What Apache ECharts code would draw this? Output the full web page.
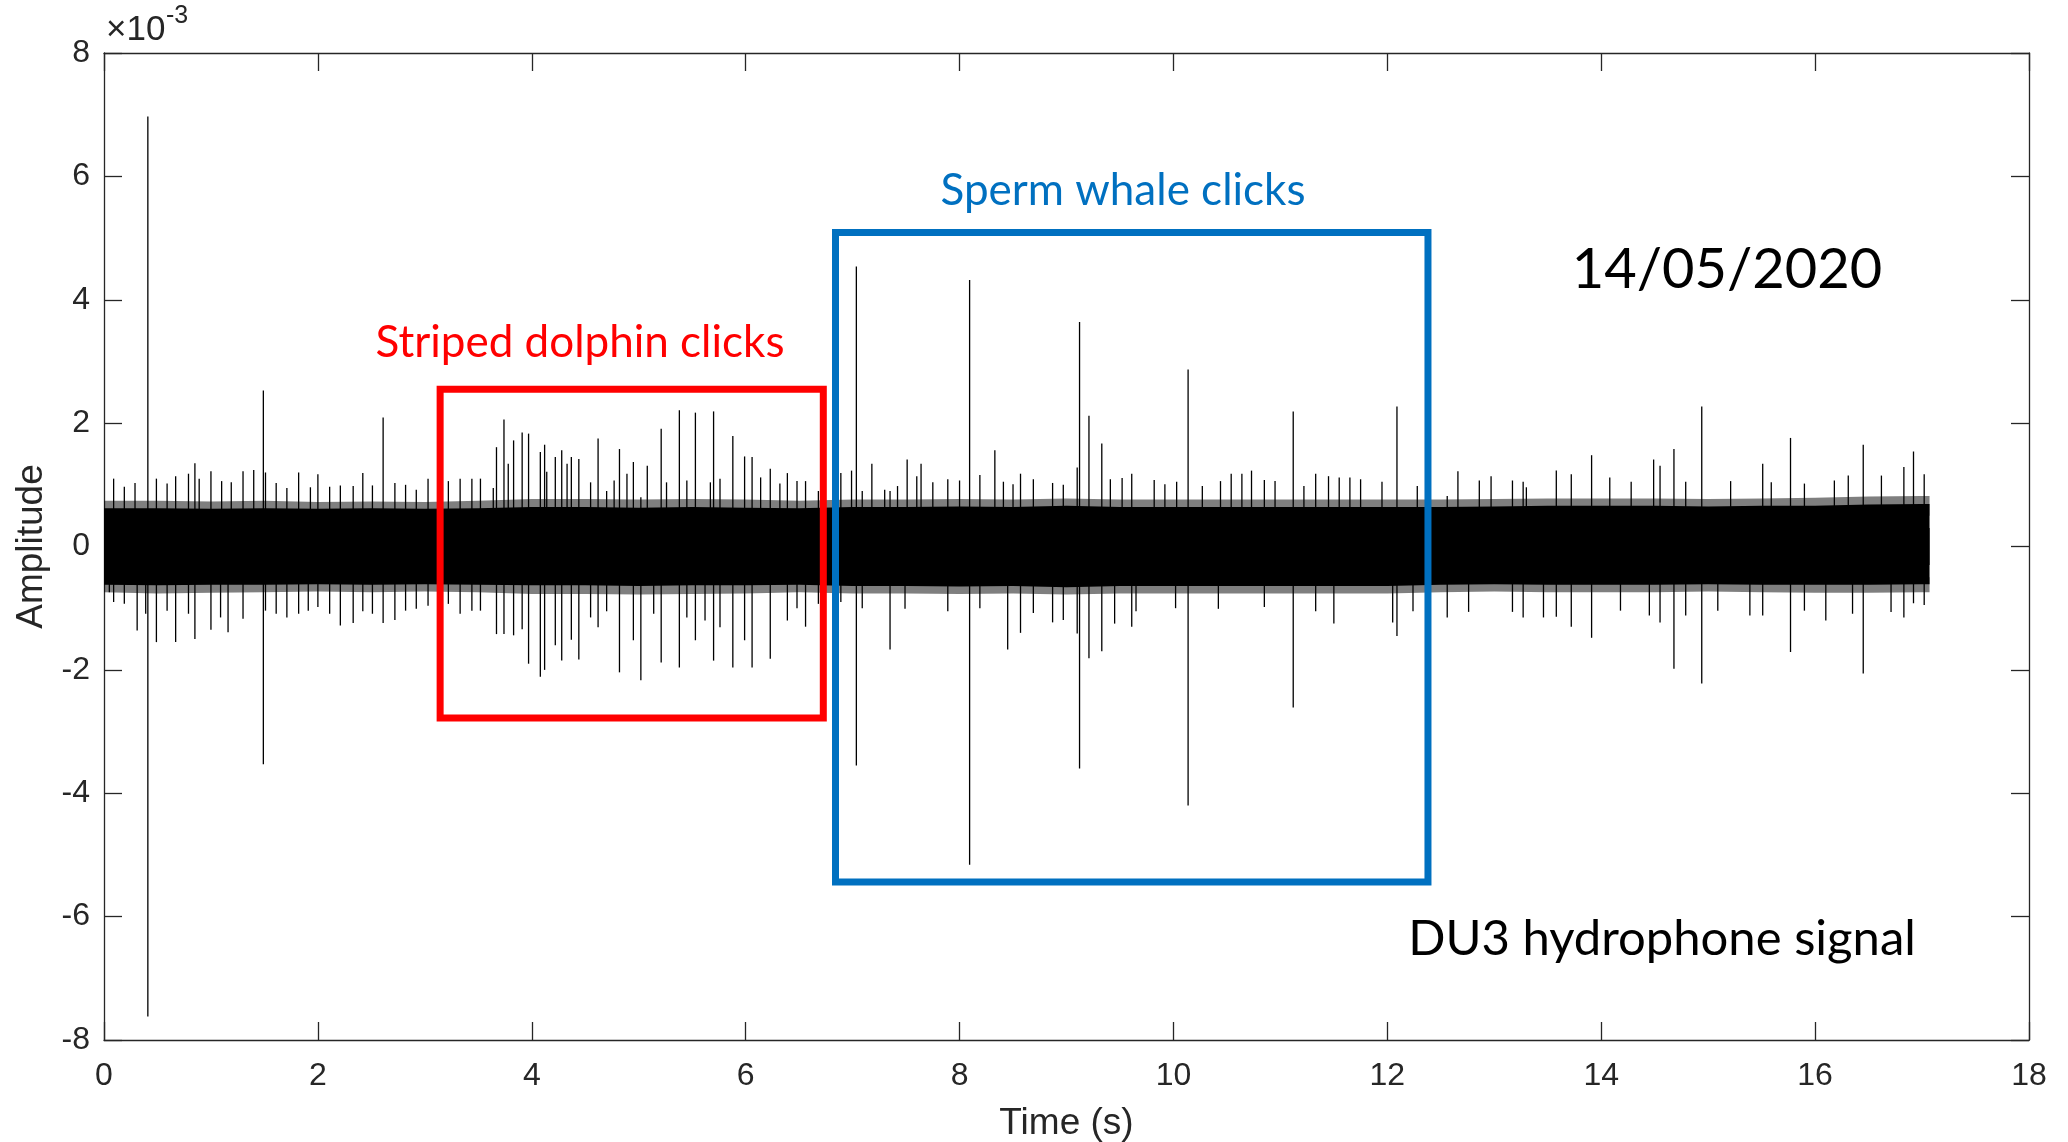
<!DOCTYPE html>
<html><head><meta charset="utf-8">
<script src="https://cdn.jsdelivr.net/npm/echarts@6/dist/echarts.min.js"></script>
<style>html,body{margin:0;padding:0;background:#fff}#c{width:2068px;height:1142px}</style>
</head><body><div id="c"></div>
<script>
// ---- data (amplitude in units of 1e-3) ----
const xTickValues = [0, 2, 4, 6, 8, 10, 12, 14, 16, 18];
const yTickValues = [-8, -6, -4, -2, 0, 2, 4, 6, 8];

// dense noise band envelope (read every 0.5 s)
const bandT   = [0,0.5,1,1.5,2,2.5,3,3.5,4,4.5,5,5.5,6,6.5,7,7.5,8,8.5,9,9.5,10,10.5,11,11.5,12,12.5,13,13.5,14,14.5,15,15.5,16,16.5,17,17.07];
const coreHi  = [0.62,0.62,0.61,0.62,0.61,0.62,0.61,0.62,0.64,0.64,0.63,0.64,0.63,0.62,0.64,0.64,0.65,0.64,0.66,0.64,0.64,0.64,0.64,0.64,0.64,0.64,0.65,0.66,0.66,0.66,0.65,0.66,0.66,0.68,0.69,0.69];
const coreLo  = [-0.62,-0.63,-0.62,-0.62,-0.61,-0.62,-0.61,-0.62,-0.63,-0.63,-0.64,-0.63,-0.63,-0.62,-0.64,-0.64,-0.65,-0.64,-0.66,-0.64,-0.64,-0.64,-0.64,-0.64,-0.64,-0.62,-0.61,-0.62,-0.62,-0.62,-0.61,-0.62,-0.62,-0.62,-0.61,-0.61];
const fringeHi = [0.74,0.74,0.73,0.74,0.72,0.73,0.72,0.74,0.77,0.77,0.76,0.77,0.76,0.74,0.76,0.76,0.77,0.76,0.78,0.76,0.76,0.76,0.76,0.76,0.76,0.76,0.77,0.78,0.78,0.78,0.77,0.78,0.79,0.81,0.82,0.82];
const fringeLo = [-0.74,-0.76,-0.75,-0.74,-0.73,-0.74,-0.73,-0.74,-0.77,-0.77,-0.78,-0.77,-0.76,-0.74,-0.76,-0.76,-0.77,-0.76,-0.78,-0.76,-0.76,-0.76,-0.76,-0.76,-0.76,-0.74,-0.73,-0.74,-0.74,-0.74,-0.73,-0.74,-0.75,-0.75,-0.74,-0.74];

// individual clicks / hairs: time (s), upper tip, lower tip
const spikeT  = [0.05,0.09,0.19,0.29,0.31,0.39,0.41,0.49,0.59,0.67,0.79,0.85,0.89,1.00,1.09,1.10,1.16,1.19,1.30,1.40,1.49,1.51,1.61,1.71,1.82,1.91,1.93,2.00,2.11,2.21,2.33,2.42,2.51,2.61,2.72,2.82,2.92,3.03,3.13,3.22,3.33,3.44,3.52,3.64,3.67,3.74,3.78,3.83,3.91,3.97,4.08,4.12,4.14,4.22,4.28,4.33,4.37,4.44,4.55,4.62,4.70,4.77,4.82,4.89,4.95,5.02,5.08,5.14,5.21,5.26,5.38,5.45,5.53,5.62,5.67,5.70,5.76,5.88,5.99,6.06,6.14,6.23,6.32,6.39,6.48,6.56,6.68,6.89,6.99,7.035,7.09,7.18,7.30,7.35,7.42,7.49,7.51,7.60,7.64,7.75,7.89,8.00,8.094,8.19,8.33,8.41,8.45,8.50,8.57,8.69,8.87,8.97,9.10,9.122,9.21,9.33,9.41,9.45,9.52,9.61,9.65,9.82,9.92,10.02,10.03,10.137,10.27,10.42,10.44,10.54,10.64,10.73,10.85,10.95,11.12,11.22,11.33,11.45,11.50,11.55,11.65,11.75,11.95,12.05,12.09,12.24,12.28,12.40,12.56,12.66,12.76,12.86,12.97,13.17,13.27,13.30,13.46,13.58,13.72,13.91,14.08,14.18,14.28,14.45,14.49,14.55,14.68,14.79,14.94,15.09,15.21,15.39,15.51,15.59,15.77,15.90,16.10,16.18,16.31,16.35,16.45,16.62,16.71,16.83,16.92,17.02];
const spikeHi = [0,1.10,0.97,1.03,0,0,6.97,1.10,1.02,1.14,1.18,1.35,1.10,1.22,0,1.06,0,1.04,1.22,1.24,2.53,1.20,1.03,0.95,1.20,0,0.96,1.17,0.97,0.99,0.98,1.19,0.99,2.09,1.03,1.00,0.92,1.10,0.94,1.06,1.10,1.10,1.10,0.95,1.61,2.06,1.34,1.72,1.85,1.83,1.53,1.65,1.21,1.45,1.56,1.34,1.45,1.42,1.04,1.75,0.90,1.07,1.58,1.18,1.37,0.80,1.31,0,1.91,1.04,2.21,1.07,2.17,0,1.04,2.19,1.10,1.79,1.46,1.45,1.12,1.26,1.02,1.19,1.06,1.06,0.90,1.19,1.23,4.54,0.90,1.34,0.92,0.90,0.98,0,1.41,1.14,1.34,1.04,1.09,1.07,4.32,1.16,1.56,1.05,0,1.01,1.18,1.09,1.03,1.00,1.28,3.64,2.12,1.67,1.09,0,1.11,1.18,0,1.08,1.01,0,1.05,2.87,0.98,0,1.06,1.18,1.18,1.23,1.08,1.06,2.19,0.98,1.18,1.14,0,1.12,1.12,1.09,1.05,0,2.27,0,0.98,0,0.82,1.22,0,1.07,1.14,1.07,1.05,0.96,0,1.23,1.17,1.48,1.12,0,1.05,0,1.41,1.31,1.58,1.05,2.27,0,1.06,0,1.34,1.04,1.76,1.02,0,1.07,1.15,0,1.65,1.15,0,1.29,1.54,1.17];
const spikeLo = [-0.74,-0.90,-0.93,0,-1.36,-1.09,-7.62,-1.55,-1.04,-1.55,-1.09,-1.50,0,-1.35,-1.15,0,-1.39,0,-1.17,0,-3.53,-1.04,-1.09,-1.15,-1.09,-1.04,0,-0.98,-1.09,-1.28,-1.24,-1.05,-1.09,-1.24,-1.19,-1.04,-1.01,-0.96,-1.01,-0.93,-1.09,-1.04,-1.04,0,-1.42,-1.42,0,-1.44,-1.34,-1.90,-2.11,-2.00,0,-1.60,-1.85,0,-1.51,-1.83,-1.15,-1.31,-1.05,0,-2.04,0,-1.52,-2.17,0,-1.09,-1.88,0,-1.96,-1.15,-1.52,-1.20,0,-1.85,-1.31,-1.96,-1.52,-1.96,0,-1.82,0,-1.20,-1.00,-1.30,-0.93,-0.90,0,-3.55,-1.00,0,0,-1.67,0,-1.01,0,0,0,0,-1.05,0,-5.16,-1.00,0,0,-1.67,0,-1.40,-1.08,-1.23,-1.19,-1.41,-3.60,-1.81,-1.70,0,-1.25,0,-1.30,-1.05,0,0,-1.00,0,-4.20,0,-1.01,0,0,0,0,-0.98,0,-2.61,0,-1.05,0,-1.25,0,0,0,0,-1.23,-1.45,-1.05,0,-0.93,-1.15,0,-1.06,0,0,-1.06,-1.15,0,-1.15,-1.14,-1.30,-1.48,0,-1.04,0,-1.12,0,-1.23,-1.98,-1.12,-2.22,-1.04,0,-1.12,-1.12,0,-1.71,-1.04,-1.20,0,0,-1.09,-2.06,0,-1.06,-1.15,-0.92,-0.95];

// annotation boxes: [t0, ampTop, t1, ampBottom]
const dolphinBox = [3.143, 2.55, 6.726, -2.78];
const spermBox   = [6.84, 5.09, 12.38, -5.44];

// texts
const xName = 'Time (s)';
const yName = 'Amplitude';
const dolphinLabel = 'Striped dolphin clicks';
const spermLabel = 'Sperm whale clicks';
const dateLabel = '14/05/2020';
const sourceLabel = 'DU3 hydrophone signal';

// ---- chart ----
const chart = echarts.init(document.getElementById('c'), null, {renderer: 'canvas'});
const axisColor = '#262626';
const tickFont = 'Liberation Sans, Arial, Helvetica, sans-serif';
const annFont = 'Lato, Carlito, Calibri, sans-serif';

function pairs(xs, ys) { return xs.map((x, i) => [x, ys[i]]); }
function bandSeries(vals, color, origin) {
  return {
    type: 'line', data: pairs(bandT, vals), symbol: 'none', silent: true,
    lineStyle: {width: 0}, areaStyle: {color: color, opacity: 1, origin: origin},
    animation: false, z: 2
  };
}
function boxSeries(box, color) {
  return {
    type: 'custom', silent: true, animation: false, z: 10,
    data: [box], encode: {x: [0, 2], y: [1, 3]},
    renderItem: (params, api) => {
      const a = api.coord([api.value(0), api.value(1)]);
      const b = api.coord([api.value(2), api.value(3)]);
      return {type: 'rect', shape: {x: a[0], y: a[1], width: b[0] - a[0], height: b[1] - a[1]},
        style: {fill: 'none', stroke: color, lineWidth: 7}};
    }
  };
}

const option = {
  backgroundColor: '#ffffff',
  animation: false,
  grid: {left: 104, right: 39, top: 53, bottom: 102, containLabel: false, outerBoundsMode: 'none'},
  xAxis: [{
    type: 'value', min: 0, max: 18, interval: 2, position: 'bottom',
    axisLine: {show: true, onZero: false, lineStyle: {color: axisColor, width: 1.3}},
    axisTick: {show: true, inside: true, length: 18, lineStyle: {color: axisColor, width: 1.3}},
    axisLabel: {color: axisColor, fontSize: 32, fontFamily: tickFont, margin: 20},
    splitLine: {show: false},
    name: xName, nameLocation: 'middle', nameGap: 65,
    nameTextStyle: {color: axisColor, fontSize: 37, fontFamily: tickFont}
  }, {
    type: 'value', min: 0, max: 18, interval: 2, position: 'top',
    axisLine: {show: true, onZero: false, lineStyle: {color: axisColor, width: 1.3}},
    axisTick: {show: true, inside: true, length: 18, lineStyle: {color: axisColor, width: 1.3}},
    axisLabel: {show: false}, splitLine: {show: false}
  }],
  yAxis: [{
    type: 'value', min: -8, max: 8, interval: 2, position: 'left',
    axisLine: {show: true, onZero: false, lineStyle: {color: axisColor, width: 1.3}},
    axisTick: {show: true, inside: true, length: 18, lineStyle: {color: axisColor, width: 1.3}},
    axisLabel: {color: axisColor, fontSize: 32, fontFamily: tickFont, margin: 14},
    splitLine: {show: false},
    name: yName, nameLocation: 'middle', nameGap: 50, nameRotate: 90,
    nameTextStyle: {color: axisColor, fontSize: 37, fontFamily: tickFont}
  }, {
    type: 'value', min: -8, max: 8, interval: 2, position: 'right',
    axisLine: {show: true, onZero: false, lineStyle: {color: axisColor, width: 1.3}},
    axisTick: {show: true, inside: true, length: 18, lineStyle: {color: axisColor, width: 1.3}},
    axisLabel: {show: false}, splitLine: {show: false}
  }],
  series: [
    bandSeries(fringeHi, 'rgba(0,0,0,0.5)', 0.5),
    bandSeries(fringeLo, 'rgba(0,0,0,0.5)', -0.5),
    bandSeries(coreHi, '#000000', -0.3),
    bandSeries(coreLo, '#000000', 0.3),
    {
      type: 'custom', silent: true, animation: false, z: 3,
      data: spikeT.map((t, i) => [t, spikeHi[i], spikeLo[i]]),
      encode: {x: 0, y: [1, 2]},
      renderItem: (params, api) => {
        const p1 = api.coord([api.value(0), api.value(1)]);
        const p2 = api.coord([api.value(0), api.value(2)]);
        return {type: 'line', shape: {x1: p1[0], y1: p1[1], x2: p2[0], y2: p2[1]},
          style: {stroke: '#000000', lineWidth: 1.3}};
      }
    },
    boxSeries(dolphinBox, '#ff0000'),
    boxSeries(spermBox, '#0070c0')
  ],
  graphic: [
    {type: 'text', left: 106, top: 13, style: {text: '\u00d710', fontSize: 35, fontFamily: tickFont, fill: axisColor}},
    {type: 'text', left: 166, top: 4, style: {text: '-3', fontSize: 25, fontFamily: tickFont, fill: axisColor}},
    {type: 'text', x: 580, y: 343, style: {text: dolphinLabel, fontSize: 44, fontFamily: annFont, fill: '#ff0000', align: 'center', verticalAlign: 'middle'}},
    {type: 'text', x: 1123, y: 191, style: {text: spermLabel, fontSize: 44, fontFamily: annFont, fill: '#0070c0', align: 'center', verticalAlign: 'middle'}},
    {type: 'text', x: 1727, y: 270, style: {text: dateLabel, fontSize: 56, fontFamily: annFont, fill: '#000000', align: 'center', verticalAlign: 'middle'}},
    {type: 'text', x: 1662, y: 939, style: {text: sourceLabel, fontSize: 49, fontFamily: annFont, fill: '#000000', align: 'center', verticalAlign: 'middle'}}
  ]
};
chart.setOption(option);
</script>
</body></html>
